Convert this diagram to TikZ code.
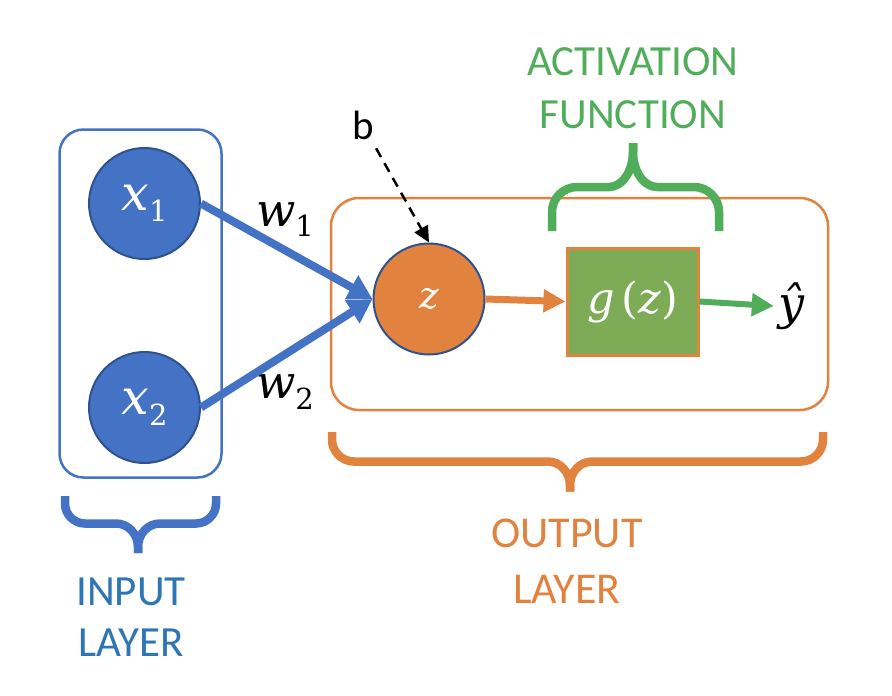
\documentclass[tikz,border=0pt]{standalone}
\usepackage{fontspec}
\setmainfont{Carlito}
\newfontfamily\mfont{DejaVu Serif}
\newfontfamily\mifont{DejaVu Serif Italic}
\usetikzlibrary{arrows.meta}
\definecolor{oblue}{HTML}{4472C4}
\definecolor{dblue}{HTML}{2F528F}
\definecolor{tblue}{HTML}{2E75B6}
\definecolor{oorange}{HTML}{E2823F}
\definecolor{ogreen}{HTML}{50AD5A}
\definecolor{boxgreen}{HTML}{7EAB55}
\newcommand\mvar[1]{{\mifont #1}}
\newcommand\msub[1]{\raisebox{-0.22em}{\fontsize{29}{29}\selectfont\mfont #1}}
% #1 colour, #2 xL, #3 xR, #4 leg end y, #5 horizontal y, #6 tip x, #7 tip y, #8 corner r, #9 tip half width
\newcommand\drawbrace[9]{%
  \draw[bracestyle,#1] (#2,#4) -- (#2,{#5+#8*sign(#4-#5)})
    .. controls (#2,{#5+0.448*#8*sign(#4-#5)}) and ({#2+0.448*#8},#5) .. ({#2+#8},#5)
    -- ({#6-#9},#5) .. controls ({#6-0.448*#9},#5) and (#6,{#5+0.358*(#7-#5)}) .. (#6,{#5+0.8*(#7-#5)}) -- (#6,#7);
  \draw[bracestyle,#1] (#3,#4) -- (#3,{#5+#8*sign(#4-#5)})
    .. controls (#3,{#5+0.448*#8*sign(#4-#5)}) and ({#3-0.448*#8},#5) .. ({#3-#8},#5)
    -- ({#6+#9},#5) .. controls ({#6+0.448*#9},#5) and (#6,{#5+0.358*(#7-#5)}) .. (#6,{#5+0.8*(#7-#5)}) -- (#6,#7);
}
\begin{document}
\begin{tikzpicture}[x=1pt,y=-1pt,
  bracestyle/.style={line width=8.5pt, line cap=butt},
  layerbox/.style={draw, line width=2.5pt, rounded corners=24pt, inner sep=0},
  xneuron/.style={circle, draw=dblue, line width=2pt, fill=oblue, minimum size=111pt, inner sep=0, text=white, font=\fontsize{49}{58}\selectfont},
  zneuron/.style={circle, draw=dblue, line width=2pt, fill=oorange, minimum size=111pt, inner sep=0, text=white, font=\fontsize{37}{44}\selectfont},
  gbox/.style={rectangle, draw=oorange, line width=3pt, fill=boxgreen, minimum width=131pt, minimum height=107pt, inner sep=0, text=white, font=\fontsize{43}{50}\selectfont},
  warrow/.style={oblue, line width=8pt, -{Triangle[length=24pt,width=26pt]}},
  mathlabel/.style={inner sep=0, font=\fontsize{46}{54}\selectfont},
  caption/.style={inner sep=0, align=center},
]
\useasboundingbox (0,0) rectangle (892,696);
% layer boxes
\node[layerbox, draw=oblue, minimum width=162pt, minimum height=348pt] (inbox) at (140.5,303.5) {};
\node[layerbox, draw=oorange, minimum width=497pt, minimum height=212pt, rounded corners=28pt] (outbox) at (579.5,304) {};
% nodes
\node[xneuron] (x1) at (144.5,203.5) {\mvar{x}\msub{1}};
\node[xneuron] (x2) at (144.5,407.5) {\mvar{x}\msub{2}};
\node[zneuron] (z) at (429,299) {\mvar{z}};
\node[gbox] (g) at (632.5,301.5) {\mvar{g}\,{\mfont(}\mvar{z}{\mfont)}};
\node[mathlabel, inner sep=4pt] (yhat) at (791,306) {\mvar{ŷ}};
\node[mathlabel] (w1) at (285,220) {\mvar{w}\msub{1}};
\node[mathlabel] (w2) at (285,392) {\mvar{w}\msub{2}};
\node[inner sep=0, font=\fontsize{41}{50}\selectfont] (b) at (363,125) {b};
% connectors
\draw[warrow] (x1.east) -- (z.west);
\draw[warrow] (x2.east) -- (z.west);
\draw[oorange, line width=7pt, -{Triangle[length=22pt,width=22pt]}] (z.east) -- (g.west);
\draw[ogreen, line width=6pt, -{Triangle[length=22pt,width=22pt]}] (g.east) -- (yhat.west);
\draw[black, line width=2.5pt, dash pattern=on 10pt off 7pt, shorten <=10pt, -{Triangle[length=16pt,width=15pt]}] (b) -- (z.north);
% braces
\drawbrace{oblue}{65}{216}{496}{523.5}{138}{553}{20}{22}
\drawbrace{oorange}{332}{823}{432}{461.5}{570}{491.5}{22}{22}
\drawbrace{ogreen}{552}{719}{231}{187}{633}{143}{25}{24}
% captions
\node[caption, text=ogreen, font=\fontsize{43}{53}\selectfont] (act) at (633,88) {ACTIVATION\\FUNCTION};
\node[caption, text=tblue, font=\fontsize{43}{51}\selectfont] (inl) at (131,617) {INPUT\\LAYER};
\node[caption, text=oorange, font=\fontsize{44}{56}\selectfont] (outl) at (567,561) {OUTPUT\\LAYER};
\end{tikzpicture}
\end{document}
